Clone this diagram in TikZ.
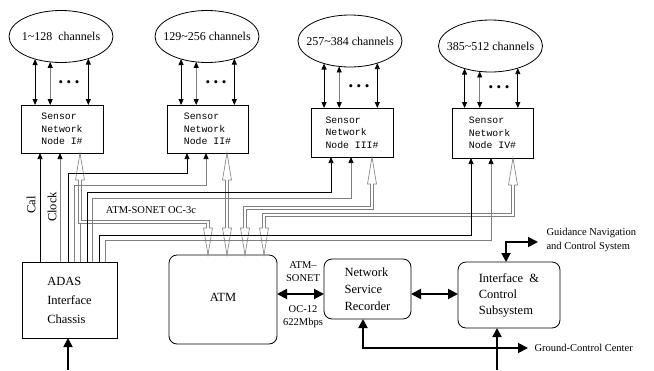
\documentclass[tikz,border=0pt]{standalone}
\usepackage{fontspec}
\setmainfont{Liberation Serif}
\newfontfamily\monof{Liberation Mono}
\usetikzlibrary{arrows.meta,calc,shapes.geometric}
\begin{document}
\begin{tikzpicture}[x=1pt,y=-1pt,
  box/.style={draw, line width=0.8pt, inner sep=0pt, outer sep=0pt},
  sensorbox/.style={box, font=\monof\fontsize{9.8}{12.5}\selectfont, align=left},
  rbox/.style={box, rounded corners=8pt, font=\fontsize{12.5}{17}\selectfont, align=left},
  chan/.style={ellipse, draw, line width=0.8pt, minimum width=104pt, minimum height=52pt, inner sep=0pt, outer sep=0pt},
  chantext/.style={font=\fontsize{12}{14}\selectfont},
  dots/.style={font=\fontsize{13}{13}\selectfont},
  earrow/.style={line width=0.8pt, {Triangle[length=6pt,width=5pt]}-{Triangle[length=6pt,width=5pt]}},
  earrowg/.style={line width=0.8pt, draw=gray, {Triangle[length=6pt,width=5pt,color=black]}-{Triangle[length=6pt,width=5pt,color=black]}},
  sig/.style={line width=0.7pt, -{Triangle[length=6pt,width=5pt]}},
  cal/.style={sig, draw=black},
  clk/.style={sig, draw=gray, -{Triangle[length=6pt,width=5pt,color=black]}},
  link/.style={draw=gray, line width=0.6pt, double=white, double distance=2pt},
  bigarr/.style={line width=2pt, {Triangle[length=10pt,width=10pt]}-{Triangle[length=10pt,width=10pt]}},
  midarr/.style={line width=1.8pt},
  lbl/.style={font=\fontsize{10.5}{13}\selectfont},
  hollowhead/.pic={\draw[gray, line width=0.6pt] (-1.3,27) -- (-4.5,27) -- (0,0) -- (4.5,27) -- (1.3,27);}
]
\useasboundingbox (0,0) rectangle (654,370);

% channel ellipses
\node[chan] (E1) at (61,36.5) {};
\node[chan] (E2) at (207,36.5) {};
\node[chan] (E3) at (350,41) {};
\node[chan] (E4) at (490.5,46) {};
\node[chantext] (E1t) at (E1) {1\textasciitilde128\ \ channels};
\node[chantext] (E2t) at (E2) {129\textasciitilde256 channels};
\node[chantext] (E3t) at (E3) {257\textasciitilde384 channels};
\node[chantext] (E4t) at (E4) {385\textasciitilde512 channels};

% sensor network nodes
\node[sensorbox, minimum width=82pt, minimum height=48pt] (S1) at (62,129) {Sensor\\Network\\Node I\#};
\node[sensorbox, minimum width=81pt, minimum height=48pt] (S2) at (207.5,129) {Sensor\\Network\\Node II\#};
\node[sensorbox, minimum width=82pt, minimum height=49pt] (S3) at (352,132.5) {Sensor\\Network\\Node III\#};
\node[sensorbox, minimum width=81pt, minimum height=50pt] (S4) at (492.5,133) {Sensor\\Network\\Node IV\#};

% channel arrows and dots
\foreach \e/\s in {E1/S1,E2/S2,E3/S3,E4/S4}{
  \draw[earrow] (\e.221) -- (\e.221 |- \s.north);
  \draw[earrowg] (\e.247) -- (\e.247 |- \s.north);
  \draw[earrow] (\e.321) -- (\e.321 |- \s.north);
}
\node[dots] (d1) at (69,84) {\textbullet\hspace{3.5pt}\textbullet\hspace{3.5pt}\textbullet};
\node[dots] (d2) at (216,84) {\textbullet\hspace{3.5pt}\textbullet\hspace{3.5pt}\textbullet};
\node[dots] (d3) at (359,88) {\textbullet\hspace{3.5pt}\textbullet\hspace{3.5pt}\textbullet};
\node[dots] (d4) at (499,89) {\textbullet\hspace{3.5pt}\textbullet\hspace{3.5pt}\textbullet};

% lower blocks
\node[box, minimum width=95pt, minimum height=76pt, align=left, font=\fontsize{12.5}{19}\selectfont] (ADAS) at (69.5,300) {ADAS\\Interface\\Chassis};
\node[rbox, minimum width=108pt, minimum height=89pt] (ATM) at (223,299.5) {\raisebox{5pt}{ATM}};
\node[rbox, minimum width=87pt, minimum height=60pt] (NSR) at (367.5,289) {Network\\Service\\Recorder};
\node[rbox, minimum width=102pt, minimum height=66pt, font=\fontsize{12.5}{16}\selectfont] (ICS) at (509,295) {Interface\ \ \&\\Control\\Subsystem};

% ATM-SONET OC-3c links (double lines with hollow heads)
\coordinate (b1) at (80,222);
\coordinate (b2) at (227,200);
\coordinate (b3) at (372,208);
\coordinate (b4) at (513,215);
\draw[draw=gray, line width=0.7pt] (ADAS.north -| b1) -- (b1);
\pic at (S1.south -| b1) {hollowhead};
\pic at (S2.south -| b2) {hollowhead};
\pic at (S3.south -| b3) {hollowhead};
\pic at (S4.south -| b4) {hollowhead};
\pic[rotate=180] at (ATM.north -| 208,0) {hollowhead};
\pic[rotate=180] at (ATM.north -| b2) {hollowhead};
\pic[rotate=180] at (ATM.north -| 245,0) {hollowhead};
\pic[rotate=180] at (ATM.north -| 264,0) {hollowhead};
\draw[link] ($(S1.south -| b1)+(0,27)$) -- (b1) -| ($(ATM.north -| 208,0)+(0,-27)$);
\draw[link] ($(S2.south -| b2)+(0,27)$) -- ($(ATM.north -| b2)+(0,-27)$);
\draw[link] ($(S3.south -| b3)+(0,27)$) -- (b3) -| ($(ATM.north -| 245,0)+(0,-27)$);
\draw[link] ($(S4.south -| b4)+(0,27)$) -- (b4) -| ($(ATM.north -| 264,0)+(0,-27)$);

% Cal / Clock signals
\coordinate (k1a) at (40,200);
\coordinate (k1b) at (60,200);
\coordinate (k2a) at (68,173);
\coordinate (k2b) at (74,185);
\coordinate (k3a) at (87,192);
\coordinate (k3b) at (92,198);
\coordinate (k4a) at (99,235);
\coordinate (k4b) at (105,240);
\draw[cal] (ADAS.north -| k1a) -- (S1.south -| k1a);
\draw[clk] (ADAS.north -| k1b) -- (S1.south -| k1b);
\draw[cal] (ADAS.north -| k2a) -- (k2a) -| (S2.south -| 187,0);
\draw[clk] (ADAS.north -| k2b) -- (k2b) -| (S2.south -| 206,0);
\draw[cal] (ADAS.north -| k3a) -- (k3a) -| (S3.south -| 331,0);
\draw[clk] (ADAS.north -| k3b) -- (k3b) -| (S3.south -| 351,0);
\draw[cal] (ADAS.north -| k4a) -- (k4a) -| (S4.south -| 471,0);
\draw[clk] (ADAS.north -| k4b) -- (k4b) -| (S4.south -| 491,0);

\node[font=\fontsize{12.5}{14}\selectfont, rotate=90] (cal) at (31,205) {Cal};
\node[font=\fontsize{12.5}{14}\selectfont, rotate=90] (clock) at (52,207) {Clock};
\node[lbl] (oc3) at (151,210) {ATM-SONET OC-3c};

% thick connections
\draw[bigarr] (ATM.east |- 0,294) -- (NSR.west |- 0,294);
\draw[bigarr] (NSR.east |- 0,294) -- (ICS.west |- 0,294);
\node[lbl, align=center] (sonet) at (303,272) {ATM\textendash\\SONET};
\node[lbl, align=center] (oc12) at (303,316.5) {OC-12\\622Mbps};

\coordinate (gnc) at (538,242);
\coordinate (gcc) at (528,348);
\coordinate (adasin) at (68,370);
\coordinate (icsin) at (497,370);
\draw[midarr, {Triangle[length=9pt,width=9pt]}-{Triangle[length=10pt,width=10pt]}] (ICS.north -| 506,0) |- (gnc);
\draw[midarr, {Triangle[length=9pt,width=9pt]}-{Triangle[length=10pt,width=10pt]}] (NSR.south -| 363,0) |- (gcc);
\draw[midarr, -{Triangle[length=9pt,width=9pt]}] (icsin) -- (ICS.south -| icsin);
\draw[midarr, -{Triangle[length=9pt,width=9pt]}] (adasin) -- (ADAS.south -| adasin);

\node[lbl, align=left, anchor=west, font=\fontsize{10.5}{14}\selectfont] (gnct) at (543,240) {Guidance Navigation\\and Control System};
\node[lbl, anchor=west] (gcct) at (531,348) {Ground-Control Center};
\end{tikzpicture}
\end{document}
